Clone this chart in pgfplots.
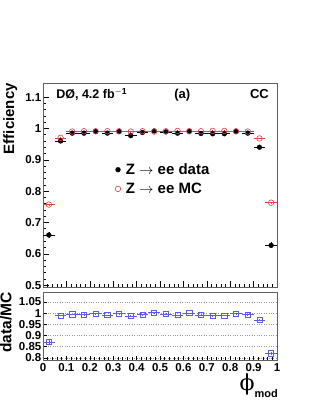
\documentclass[border=0pt]{standalone}
\usepackage{pgfplots}
\pgfplotsset{compat=1.18}
\usepackage{pgfplotstable}
\usepackage{fontspec}
\setmainfont{Liberation Sans}
\newfontfamily\symf{DejaVu Serif}
\definecolor{mcred}{RGB}{235,60,60}
\definecolor{ratblue}{RGB}{90,90,240}
\pgfplotstableread{
x ex data edata mc emc ratio erat
0.025 0.025 0.660 0.010 0.757 0.003 0.870 0.010
0.075 0.025 0.960 0.004 0.970 0.002 0.990 0.004
0.125 0.025 0.985 0.003 0.990 0.002 0.995 0.003
0.175 0.025 0.985 0.003 0.991 0.002 0.993 0.003
0.225 0.025 0.990 0.003 0.991 0.002 0.998 0.003
0.275 0.025 0.985 0.003 0.991 0.002 0.991 0.003
0.325 0.025 0.990 0.003 0.991 0.002 0.998 0.003
0.375 0.025 0.977 0.003 0.990 0.002 0.987 0.003
0.425 0.025 0.987 0.003 0.991 0.002 0.994 0.003
0.475 0.025 0.992 0.003 0.990 0.002 1.002 0.003
0.525 0.025 0.989 0.003 0.991 0.002 0.996 0.003
0.575 0.025 0.985 0.003 0.992 0.002 0.991 0.003
0.625 0.025 0.991 0.003 0.991 0.002 1.000 0.003
0.675 0.025 0.984 0.003 0.991 0.002 0.992 0.003
0.725 0.025 0.983 0.003 0.992 0.002 0.989 0.003
0.775 0.025 0.983 0.003 0.992 0.002 0.990 0.003
0.825 0.025 0.990 0.003 0.991 0.002 0.998 0.003
0.875 0.025 0.985 0.003 0.990 0.002 0.994 0.003
0.925 0.025 0.940 0.005 0.968 0.002 0.970 0.004
0.975 0.025 0.627 0.010 0.763 0.003 0.820 0.008
}\effdata
\begin{document}
\begin{tikzpicture}[x=1pt,y=1pt]
\useasboundingbox (0,0) rectangle (316,409);
\pgfplotsset{
  rootstyle/.style={
    scale only axis, width=234pt,
    xmin=0, xmax=1,
    axis line style={gray!75!black, line width=0.8pt},
    tick style={black, line width=0.5pt},
    xtick={0,0.1,...,1.01}, minor x tick num=4,
    tick label style={font=\fontsize{11.5}{12}\selectfont\bfseries},
    yticklabel style={inner sep=1.5pt},
    /pgf/number format/assume math mode=true,
    xtick pos=left, ytick pos=left,
  }
}
\begin{axis}[rootstyle, at={(43pt,122pt)}, anchor=south west,
  height=204pt, ymin=0.494, ymax=1.145,
  major tick length=6pt, minor tick length=3pt,
  ytick={0.5,0.6,0.7,0.8,0.9,1,1.1},
  yticklabels={0.5,0.6,0.7,0.8,0.9,1,1.1},
  minor y tick num=4,
  xticklabels={},
  legend style={draw=none, fill=none, at={(axis cs:0.295,0.838)}, anchor=west,
    font=\fontsize{15}{17}\selectfont\bfseries, row sep=3pt,
    /tikz/every even column/.append style={column sep=2pt}},
  legend cell align=left,
]
\addplot[only marks, mark=*, mark size=2.4pt, black,
  error bars/.cd, x dir=both, x explicit, y dir=both, y explicit,
  error mark=none, error bar style={black, line width=0.6pt}]
  table[x=x, y=data, x error=ex, y error=edata] {\effdata};
\addlegendentry{\hspace{3pt}Z $\rightarrow$ ee data}
\addplot[only marks, mark=o, mark size=2.8pt, mcred, mark options={line width=0.6pt},
  error bars/.cd, x dir=both, x explicit, y dir=both, y explicit,
  error mark=none, error bar style={mcred, line width=0.6pt}]
  table[x=x, y=mc, x error=ex, y error=emc] {\effdata};
\addlegendentry{\hspace{3pt}Z $\rightarrow$ ee MC}
\node[anchor=base west, font=\fontsize{12.5}{13}\selectfont\bfseries] at (axis cs:0.042,1.095) {DØ, 4.2 fb$^{\mathbf{-1}}$};
\node[anchor=base, font=\fontsize{13}{13}\selectfont\bfseries] at (axis cs:0.595,1.095) {(a)};
\node[anchor=base east, font=\fontsize{13}{13}\selectfont\bfseries] at (axis cs:0.98,1.095) {CC};
\end{axis}
\begin{axis}[rootstyle, at={(43pt,49pt)}, anchor=south west,
  height=68pt, ymin=0.79, ymax=1.095,
  major tick length=4pt, minor tick length=2.5pt,
  ytick={0.8,0.85,0.9,0.95,1,1.05},
  yticklabels={0.8,0.85,0.9,0.95,1,1.05},
  xticklabels={0,0.1,0.2,0.3,0.4,0.5,0.6,0.7,0.8,0.9,1},
  minor y tick num=0,
  ymajorgrids, major grid style={gray!80, dotted, line width=0.5pt},
]
\addplot[only marks, mark=square, mark size=2.6pt, ratblue, mark options={line width=0.6pt},
  error bars/.cd, x dir=both, x explicit, y dir=both, y explicit,
  error mark=none, error bar style={ratblue, line width=0.6pt}]
  table[x=x, y=ratio, x error=ex, y error=erat] {\effdata};
\end{axis}
\node[rotate=90, anchor=north east, inner sep=0pt, font=\fontsize{15}{15}\selectfont\bfseries] at (3,326) {Efficiency};
\node[rotate=90, anchor=north east, inner sep=0pt, font=\fontsize{15.5}{15.5}\selectfont\bfseries] at (0,117) {data/MC};
\node[anchor=south east, inner sep=0pt] at (278,11) {{\fontsize{22}{22}\selectfont\symf ϕ}\raisebox{-7pt}{\fontsize{11}{11}\selectfont\bfseries mod}};
\end{tikzpicture}
\end{document}
